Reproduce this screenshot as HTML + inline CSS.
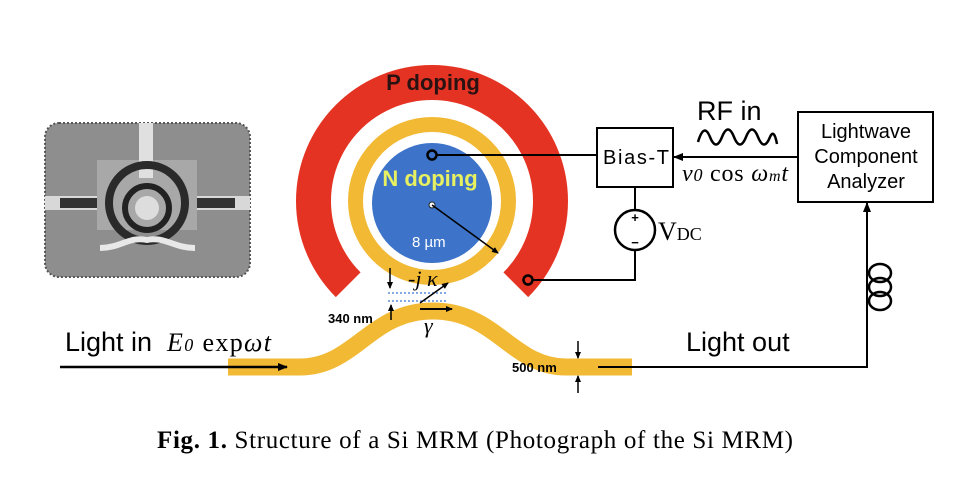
<!DOCTYPE html>
<html><head><meta charset="utf-8"><style>
html,body{margin:0;padding:0;background:#fff;}
svg{display:block}
</style></head><body>
<svg width="963" height="482" viewBox="0 0 963 482" xmlns="http://www.w3.org/2000/svg">
<defs>
<marker id="ah" markerWidth="10" markerHeight="8" refX="9" refY="4" orient="auto" markerUnits="userSpaceOnUse"><path d="M0,0 L10,4 L0,8 z" fill="#000"/></marker>
<marker id="ahs" markerWidth="7" markerHeight="6" refX="6" refY="3" orient="auto" markerUnits="userSpaceOnUse"><path d="M0,0 L7,3 L0,6 z" fill="#000"/></marker>
</defs>
<!-- photo -->
<rect x="45" y="123" width="205" height="154" rx="14" fill="#8e8e8e" stroke="#555" stroke-width="2" stroke-dasharray="2,2"/>
<rect x="45" y="196" width="205" height="14" fill="#d8d8d8"/>
<rect x="60" y="198" width="40" height="10" fill="#333"/>
<rect x="195" y="198" width="40" height="10" fill="#333"/>
<rect x="97" y="160" width="100" height="70" fill="#a8a8a8"/>
<rect x="139" y="123" width="14" height="55" fill="#e0e0e0"/>
<circle cx="147" cy="203" r="38" fill="none" stroke="#2a2a2a" stroke-width="8"/>
<circle cx="147" cy="208" r="22" fill="none" stroke="#222" stroke-width="6"/>
<circle cx="147" cy="208" r="12" fill="#ddd"/>
<path d="M100 248 C120 248,130 236,147 240 C164 236,174 248,195 248" stroke="#e8e8e8" stroke-width="6" fill="none"/>
<!-- red P arc -->
<path d="M348.2 284.8 A118.5 118.5 0 1 1 515.8 284.8" fill="none" stroke="#e53323" stroke-width="35"/>
<!-- yellow ring -->
<circle cx="432" cy="201" r="76.5" fill="none" stroke="#f2b935" stroke-width="15"/>
<!-- blue -->
<circle cx="432" cy="203" r="60" fill="#3d74c9"/>
<!-- waveguide -->
<path d="M228 367 L300 367 C355 367,370 311,433 311 C496 311,512 367,566 367 L632 367" fill="none" stroke="#f2b935" stroke-width="17"/>
<!-- dashed coupling -->
<line x1="388" y1="293" x2="448" y2="293" stroke="#5b8fd6" stroke-width="1.5" stroke-dasharray="2,2"/>
<line x1="388" y1="301" x2="448" y2="301" stroke="#5b8fd6" stroke-width="1.5" stroke-dasharray="2,2"/>
<line x1="390" y1="268" x2="390" y2="288" stroke="#000" stroke-width="1.5" marker-end="url(#ahs)"/>
<line x1="391" y1="320" x2="391" y2="305" stroke="#000" stroke-width="1.5" marker-end="url(#ahs)"/>
<line x1="420" y1="303" x2="448" y2="283" stroke="#000" stroke-width="1.5" marker-end="url(#ahs)"/>
<line x1="420" y1="309" x2="452" y2="309" stroke="#000" stroke-width="2" marker-end="url(#ahs)"/>
<text x="408" y="286" font-family="Liberation Serif, serif" font-style="italic" font-size="22">-j κ</text>
<text x="424" y="333" font-family="Liberation Serif, serif" font-style="italic" font-size="22">γ</text>
<text x="328" y="323" font-family="Liberation Sans, sans-serif" font-weight="bold" font-size="13">340 nm</text>
<!-- doping labels -->
<text x="433" y="90" text-anchor="middle" font-family="Liberation Sans, sans-serif" font-weight="bold" font-size="22" fill="#2a1212">P doping</text>
<text x="430" y="186" text-anchor="middle" font-family="Liberation Sans, sans-serif" font-weight="bold" font-size="22" fill="#e6f060">N doping</text>
<circle cx="432" cy="205" r="3" fill="#fff" stroke="#222" stroke-width="1"/>
<line x1="432" y1="205" x2="498" y2="253" stroke="#000" stroke-width="1.5" marker-end="url(#ahs)"/>
<text x="412" y="247" font-family="Liberation Sans, sans-serif" font-size="15" fill="#fff">8 µm</text>
<!-- contacts & wires -->
<line x1="436" y1="155" x2="597" y2="155" stroke="#000" stroke-width="2"/>
<circle cx="432" cy="155" r="4.5" fill="#3d74c9" stroke="#000" stroke-width="2.5"/>
<polyline points="532,280 635,280 635,250" fill="none" stroke="#000" stroke-width="2"/>
<circle cx="528" cy="280" r="4.5" fill="#e53323" stroke="#000" stroke-width="2.5"/>
<line x1="635" y1="187" x2="635" y2="210" stroke="#000" stroke-width="2"/>
<circle cx="635" cy="230" r="20" fill="#fff" stroke="#000" stroke-width="2.5"/>
<text x="635" y="222" text-anchor="middle" font-family="Liberation Sans, sans-serif" font-weight="bold" font-size="13">+</text>
<text x="635" y="247" text-anchor="middle" font-family="Liberation Sans, sans-serif" font-weight="bold" font-size="13">−</text>
<text x="658" y="240" font-family="Liberation Serif, serif" font-size="26">V<tspan font-size="18">DC</tspan></text>
<!-- Bias-T -->
<rect x="597" y="128" width="76" height="59" fill="#fff" stroke="#000" stroke-width="2"/>
<text x="636" y="164" text-anchor="middle" font-family="Liberation Sans, sans-serif" font-size="20" textLength="66">Bias-T</text>
<line x1="798" y1="157" x2="674" y2="157" stroke="#000" stroke-width="2" marker-end="url(#ah)"/>
<text x="697" y="120" font-family="Liberation Sans, sans-serif" font-size="27">RF in</text>
<path d="M698 142 Q704 122 710 137 Q716 152 722 137 Q728 122 734 137 Q740 152 746 137 Q752 122 758 137 Q764 152 770 137 Q774 128 777 144" fill="none" stroke="#000" stroke-width="2.5"/>
<text x="682" y="181" font-family="Liberation Serif, serif" font-size="24" textLength="106"><tspan font-style="italic">v<tspan font-size="18">0</tspan></tspan> cos <tspan font-style="italic">ω<tspan font-size="16">m</tspan>t</tspan></text>
<!-- Analyzer -->
<rect x="798" y="112" width="135" height="90" fill="#fff" stroke="#000" stroke-width="2"/>
<text x="866" y="138" text-anchor="middle" font-family="Liberation Sans, sans-serif" font-size="20">Lightwave</text>
<text x="866" y="163" text-anchor="middle" font-family="Liberation Sans, sans-serif" font-size="20">Component</text>
<text x="866" y="188" text-anchor="middle" font-family="Liberation Sans, sans-serif" font-size="20">Analyzer</text>
<!-- output line -->
<polyline points="598,367 867,367 867,203" fill="none" stroke="#000" stroke-width="2" marker-end="url(#ah)"/>
<ellipse cx="880" cy="273" rx="11" ry="9" fill="none" stroke="#000" stroke-width="2.5"/>
<ellipse cx="880" cy="287" rx="11" ry="9" fill="none" stroke="#000" stroke-width="2.5"/>
<ellipse cx="880" cy="301" rx="11" ry="9" fill="none" stroke="#000" stroke-width="2.5"/>
<text x="686" y="351" font-family="Liberation Sans, sans-serif" font-size="27">Light out</text>
<text x="512" y="372" font-family="Liberation Sans, sans-serif" font-weight="bold" font-size="13">500 nm</text>
<line x1="578" y1="341" x2="578" y2="358" stroke="#000" stroke-width="1.5" marker-end="url(#ahs)"/>
<line x1="578" y1="393" x2="578" y2="376" stroke="#000" stroke-width="1.5" marker-end="url(#ahs)"/>
<!-- Light in -->
<line x1="60" y1="367" x2="287" y2="367" stroke="#000" stroke-width="2.5" marker-end="url(#ah)"/>
<text x="65" y="351" font-family="Liberation Sans, sans-serif" font-size="27">Light in</text>
<text x="167" y="351" font-family="Liberation Serif, serif" font-size="26" textLength="104"><tspan font-style="italic">E<tspan font-size="18">0</tspan></tspan> exp<tspan font-style="italic">ωt</tspan></text>
<!-- caption -->
<text x="157" y="448" font-family="Liberation Serif, serif" font-size="25" textLength="636"><tspan font-weight="bold">Fig. 1.</tspan> Structure of a Si MRM (Photograph of the Si MRM)</text>
</svg>
</body></html>
